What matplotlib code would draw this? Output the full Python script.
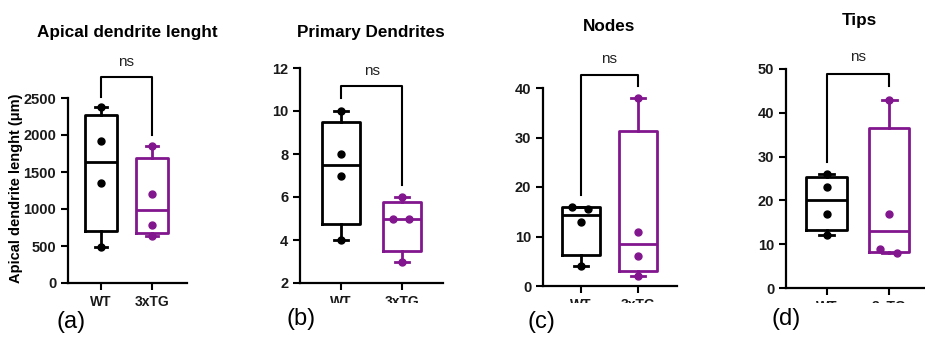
import numpy as np
import matplotlib.pyplot as plt
from matplotlib.patches import Rectangle

plt.rcParams['font.family'] = ['Liberation Sans', 'DejaVu Sans']

# Datos (4 neuronas por grupo)
grupos = ['WT', '3xTG']
titulos = ['Apical dendrite lenght', 'Primary Dendrites', 'Nodes', 'Tips']
letras = ['(a)', '(b)', '(c)', '(d)']

apical_wt = [2380, 1920, 1350, 480]
apical_tg = [1850, 1200, 780, 640]
primarias_wt = [10, 8, 7, 4]
primarias_tg = [6, 5, 5, 3]
nodos_wt = [16, 15.5, 13, 4]
nodos_tg = [38, 11, 6, 2]
puntas_wt = [26, 23, 17, 12]
puntas_tg = [43, 17, 9, 8]

negro = 'black'
morado = '#82168E'
W, H = 925, 340

# Configuracion de cada panel (pixeles de la figura y limites)
paneles = [
    dict(datos=(apical_wt, apical_tg), caja=(68, 187, 98, 283), ylim=(0, 2500), yt=np.arange(0, 2501, 500),
         xlim=(0.353, 2.686), ancho=0.63, llave=(2783, 2513, 2000), ns=2890,
         tit=(127, 37), letra=(71, 328)),
    dict(datos=(primarias_wt, primarias_tg), caja=(300, 443, 68, 283), ylim=(2, 12), yt=np.arange(2, 13, 2),
         xlim=(0.328, 2.67), ancho=0.62, llave=(11.16, 10.6, 6.56), ns=11.55,
         tit=(371, 37), letra=(301, 325)),
    dict(datos=(nodos_wt, nodos_tg), caja=(543, 677, 88, 286), ylim=(0, 40), yt=np.arange(0, 41, 10),
         xlim=(0.333, 2.684), ancho=0.65, llave=(42.6, 18.4, 40.4), ns=44.4,
         tit=(609, 31), letra=(541, 328)),
    dict(datos=(puntas_wt, puntas_tg), caja=(786, 924, 69, 288), ylim=(0, 50), yt=np.arange(0, 51, 10),
         xlim=(0.35, 2.56), ancho=0.65, llave=(48.9, 28.8, 46.1), ns=51.2,
         tit=(859, 25), letra=(786, 325)),
]


def resumen(v):
    q1, med, q3 = np.percentile(v, [25, 50, 75], method='weibull')
    return dict(med=med, q1=q1, q3=q3, whislo=min(v), whishi=max(v), fliers=[])


def separar(v, rango):
    # separa horizontalmente puntos casi iguales
    off = np.zeros(len(v))
    v = np.asarray(v, float)
    for i in range(len(v)):
        for j in range(i + 1, len(v)):
            if abs(v[i] - v[j]) < 0.03 * rango and off[i] == 0 and off[j] == 0:
                off[i], off[j] = -0.15, 0.12
    return off


fig = plt.figure(figsize=(W / 100, H / 100), dpi=100)

for k, p in enumerate(paneles):
    x0, x1, y0, y1 = p['caja']
    ax = fig.add_axes([x0 / W, 1 - y1 / H, (x1 - x0) / W, (y1 - y0) / H])
    rango = p['ylim'][1] - p['ylim'][0]
    for i, (vals, col) in enumerate(zip(p['datos'], [negro, morado])):
        lp = dict(color=col, linewidth=2.0)
        ax.bxp([resumen(vals)], positions=[i + 1], widths=p['ancho'], capwidths=0.24,
               showfliers=False, boxprops=lp, whiskerprops=lp, capprops=lp, medianprops=lp)
        ax.plot(i + 1 + separar(vals, rango), vals, 'o', color=col, markersize=5, zorder=3, clip_on=False)

    ax.set_ylim(*p['ylim'])
    ax.set_xlim(*p['xlim'])
    ax.set_yticks(p['yt'])
    ax.set_xticks([1, 2])
    ax.set_xticklabels(grupos)
    for s in ['top', 'right']:
        ax.spines[s].set_visible(False)
    for s in ['left', 'bottom']:
        ax.spines[s].set_linewidth(1.6)
    ax.tick_params(width=1.5, length=5, labelsize=10.5, colors='black', labelcolor='#1a1a1a')
    ax.tick_params(axis='x', labelsize=10)
    for t in ax.get_xticklabels() + ax.get_yticklabels():
        t.set_fontweight('bold')

    # llave "ns"
    top, izq, der = p['llave']
    ax.plot([1, 1, 2, 2], [izq, top, top, der], color='black', linewidth=1.5, clip_on=False)
    ax.text(1.5, p['ns'], 'ns', ha='center', va='bottom', fontsize=11, color='#222222', clip_on=False)

    tx, ty = p['tit']
    fig.text(tx / W, 1 - ty / H, titulos[k], ha='center', va='baseline', fontsize=12.3, fontweight='bold')

# etiquetas del eje x tapadas en los paneles b, c y d como en la figura original
fig.patches.append(Rectangle((235 / W, 0), 1, (H - 303) / H, transform=fig.transFigure,
                             facecolor='white', edgecolor='none', zorder=1))

for k, p in enumerate(paneles):
    lx, ly = p['letra']
    fig.text(lx / W, 1 - ly / H, letras[k], ha='center', va='baseline', fontsize=17, zorder=5)

fig.text(16 / W, 1 - 188 / H, 'Apical dendrite lenght (μm)', rotation=90, ha='center', va='center',
         fontsize=10.5, fontweight='bold')

plt.savefig('out.png', dpi=100)
